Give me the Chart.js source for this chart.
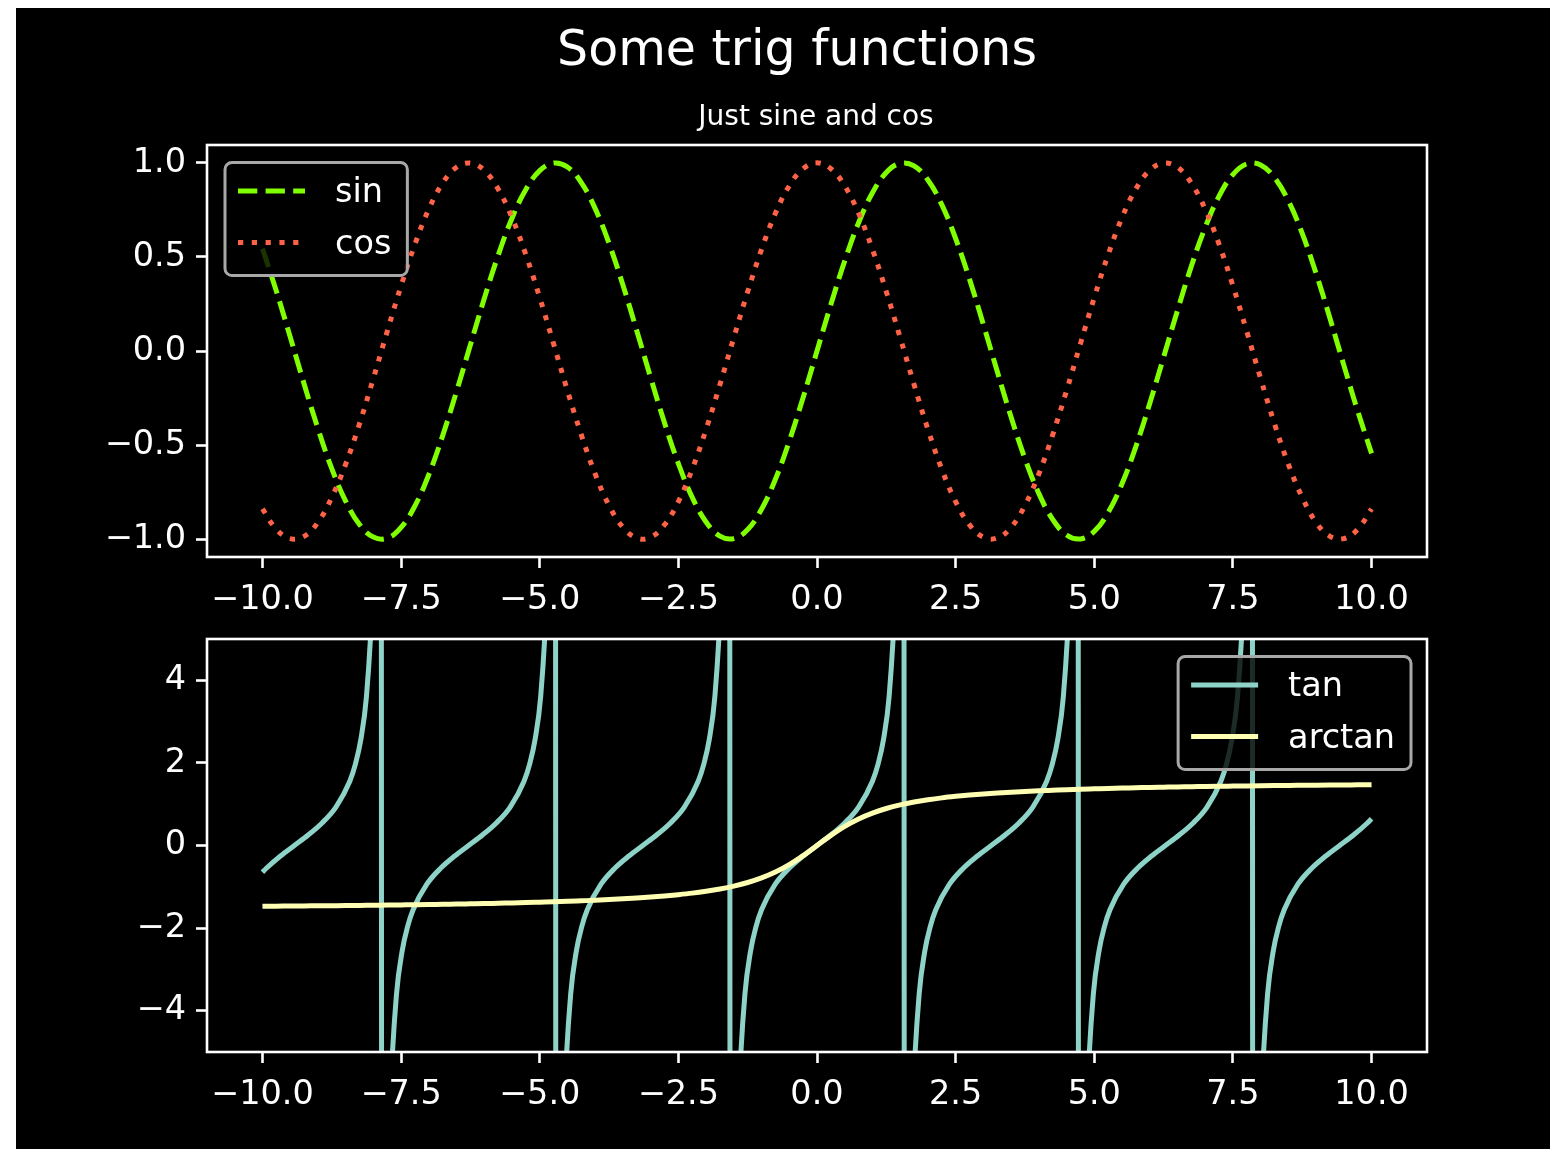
<!DOCTYPE html>
<html>
<head>
<meta charset="utf-8">
<script src="https://cdn.jsdelivr.net/npm/chart.js@4.4.1/dist/chart.umd.min.js"></script>
<style>
  html, body { margin: 0; background: #fff; }
  #fig { position: absolute; left: 16px; top: 8px; width: 1534px; height: 1141px; background: #000; }
  canvas { position: absolute; left: 0; }
</style>
</head>
<body>
<div id="fig"></div>
<canvas id="trigTop" width="1556" height="640" style="top:0px"></canvas>
<canvas id="trigBottom" width="1556" height="569" style="top:580px"></canvas>

<script>
/* ================== DATA ================== */
const xGrid = [
  -10, -9.75, -9.5, -9.25, -9, -8.75, -8.5, -8.25, -8, -7.75, -7.5, -7.25, -7, -6.75, -6.5, -6.25,
  -6, -5.75, -5.5, -5.25, -5, -4.75, -4.5, -4.25, -4, -3.75, -3.5, -3.25, -3, -2.75, -2.5, -2.25,
  -2, -1.75, -1.5, -1.25, -1, -0.75, -0.5, -0.25, 0, 0.25, 0.5, 0.75, 1, 1.25, 1.5, 1.75,
  2, 2.25, 2.5, 2.75, 3, 3.25, 3.5, 3.75, 4, 4.25, 4.5, 4.75, 5, 5.25, 5.5, 5.75,
  6, 6.25, 6.5, 6.75, 7, 7.25, 7.5, 7.75, 8, 8.25, 8.5, 8.75, 9, 9.25, 9.5, 9.75, 10
];

const sinValues = [
  0.544, 0.319, 0.075, -0.174, -0.412, -0.625, -0.798, -0.922, -0.989, -0.995, -0.938, -0.823, -0.657, -0.450, -0.215, 0.033,
  0.279, 0.508, 0.706, 0.859, 0.959, 0.999, 0.978, 0.895, 0.757, 0.572, 0.351, 0.108, -0.141, -0.382, -0.598, -0.778,
  -0.909, -0.984, -0.997, -0.949, -0.841, -0.682, -0.479, -0.247, 0, 0.247, 0.479, 0.682, 0.841, 0.949, 0.997, 0.984,
  0.909, 0.778, 0.598, 0.382, 0.141, -0.108, -0.351, -0.572, -0.757, -0.895, -0.978, -0.999, -0.959, -0.859, -0.706, -0.508,
  -0.279, -0.033, 0.215, 0.450, 0.657, 0.823, 0.938, 0.995, 0.989, 0.922, 0.798, 0.625, 0.412, 0.174, -0.075, -0.319, -0.544
];

const cosValues = [
  -0.839, -0.948, -0.997, -0.985, -0.911, -0.778, -0.602, -0.387, -0.146, 0.104, 0.347, 0.568, 0.754, 0.893, 0.977, 0.999,
  0.960, 0.861, 0.709, 0.512, 0.284, 0.038, -0.211, -0.446, -0.654, -0.821, -0.937, -0.994, -0.990, -0.924, -0.801, -0.628,
  -0.416, -0.178, 0.071, 0.315, 0.540, 0.732, 0.878, 0.969, 1.0, 0.969, 0.878, 0.732, 0.540, 0.315, 0.071, -0.178,
  -0.416, -0.628, -0.801, -0.924, -0.990, -0.994, -0.937, -0.821, -0.654, -0.446, -0.211, 0.038, 0.284, 0.512, 0.709, 0.861,
  0.960, 0.999, 0.977, 0.893, 0.754, 0.568, 0.347, 0.104, -0.146, -0.387, -0.602, -0.778, -0.911, -0.985, -0.997, -0.948, -0.839
];

const arctanValues = [
  -1.471, -1.468, -1.466, -1.463, -1.460, -1.457, -1.454, -1.450, -1.446, -1.442, -1.438, -1.434, -1.429, -1.423, -1.418, -1.412,
  -1.406, -1.398, -1.391, -1.383, -1.373, -1.363, -1.352, -1.339, -1.326, -1.310, -1.292, -1.272, -1.249, -1.222, -1.190, -1.153,
  -1.107, -1.052, -0.983, -0.896, -0.785, -0.644, -0.464, -0.245, 0, 0.245, 0.464, 0.644, 0.785, 0.896, 0.983, 1.052,
  1.107, 1.153, 1.190, 1.222, 1.249, 1.272, 1.292, 1.310, 1.326, 1.339, 1.352, 1.363, 1.373, 1.383, 1.391, 1.398,
  1.406, 1.412, 1.418, 1.423, 1.429, 1.434, 1.438, 1.442, 1.446, 1.450, 1.454, 1.457, 1.460, 1.463, 1.466, 1.468, 1.471
];

// tan is sampled more densely next to each asymptote
const tanX = [
  -10, -9.925, -9.675, -9.425, -9.175, -8.925, -8.675, -8.425, -8.325, -8.225, -8.125, -8.025, -7.925, -7.875,
  -7.833, -7.783, -7.683, -7.583, -7.483, -7.383, -7.283, -7.033, -6.783, -6.533, -6.283, -6.033, -5.783, -5.533, -5.283, -5.183, -5.083, -4.983, -4.883, -4.783, -4.733,
  -4.692, -4.642, -4.542, -4.442, -4.342, -4.242, -4.142, -3.892, -3.642, -3.392, -3.142, -2.892, -2.642, -2.392, -2.142, -2.042, -1.942, -1.842, -1.742, -1.642, -1.592,
  -1.55, -1.5, -1.4, -1.3, -1.2, -1.1, -1.0, -0.75, -0.5, -0.25, 0, 0.25, 0.5, 0.75, 1.0, 1.1, 1.2, 1.3, 1.4, 1.5, 1.55,
  1.592, 1.642, 1.742, 1.842, 1.942, 2.042, 2.142, 2.392, 2.642, 2.892, 3.142, 3.392, 3.642, 3.892, 4.142, 4.242, 4.342, 4.442, 4.542, 4.642, 4.692,
  4.733, 4.783, 4.883, 4.983, 5.083, 5.183, 5.283, 5.533, 5.783, 6.033, 6.283, 6.533, 6.783, 7.033, 7.283, 7.383, 7.483, 7.583, 7.683, 7.783, 7.833,
  7.875, 7.925, 8.025, 8.125, 8.225, 8.325, 8.425, 8.675, 8.925, 9.175, 9.425, 9.675, 9.925, 10
];

const tanValues = [
  -0.648, -0.546, -0.255, 0, 0.255, 0.546, 0.932, 1.557, 1.965, 2.572, 3.602, 5.798, 14.10, 48.08,
  -48.08, -14.10, -5.798, -3.602, -2.572, -1.965, -1.557, -0.932, -0.546, -0.255, 0, 0.255, 0.546, 0.932, 1.557, 1.965, 2.572, 3.602, 5.798, 14.10, 48.08,
  -48.08, -14.10, -5.798, -3.602, -2.572, -1.965, -1.557, -0.932, -0.546, -0.255, 0, 0.255, 0.546, 0.932, 1.557, 1.965, 2.572, 3.602, 5.798, 14.10, 48.08,
  -48.08, -14.10, -5.798, -3.602, -2.572, -1.965, -1.557, -0.932, -0.546, -0.255, 0, 0.255, 0.546, 0.932, 1.557, 1.965, 2.572, 3.602, 5.798, 14.10, 48.08,
  -48.08, -14.10, -5.798, -3.602, -2.572, -1.965, -1.557, -0.932, -0.546, -0.255, 0, 0.255, 0.546, 0.932, 1.557, 1.965, 2.572, 3.602, 5.798, 14.10, 48.08,
  -48.08, -14.10, -5.798, -3.602, -2.572, -1.965, -1.557, -0.932, -0.546, -0.255, 0, 0.255, 0.546, 0.932, 1.557, 1.965, 2.572, 3.602, 5.798, 14.10, 48.08,
  -48.08, -14.10, -5.798, -3.602, -2.572, -1.965, -1.557, -0.932, -0.546, -0.255, 0, 0.255, 0.546, 0.648
];

const xTicks = [-10, -7.5, -5, -2.5, 0, 2.5, 5, 7.5, 10];
const topYTicks = [-1, -0.5, 0, 0.5, 1];
const bottomYTicks = [-4, -2, 0, 2, 4];

const figTitle = "Some trig functions";
const topTitle = "Just sine and cos";

/* ================== HELPERS ================== */
const FONT = "DejaVu Sans";
const toPoints = (xs, ys) => xs.map((x, i) => ({ x, y: ys[i] }));
const fmt = (v, digits) => v.toFixed(digits).replace("-", "\u2212");

Chart.defaults.font.family = FONT;
Chart.defaults.color = "#fff";

/* ================== PLUGINS ================== */
// full box round the axes, like matplotlib spines
const frame = {
  id: "frame",
  afterDatasetsDraw(chart) {
    const { ctx, chartArea: a } = chart;
    ctx.save();
    ctx.strokeStyle = "#fff";
    ctx.lineWidth = 2.6;
    ctx.strokeRect(a.left, a.top, a.right - a.left, a.bottom - a.top);
    ctx.restore();
  }
};

// legend drawn inside the plot area
const boxLegend = {
  id: "boxLegend",
  afterDatasetsDraw(chart, args, opts) {
    const { ctx, chartArea: a } = chart;
    const items = chart.data.datasets;
    ctx.save();
    ctx.font = `33.5px "${FONT}"`;
    const textW = Math.max(...items.map(d => ctx.measureText(d.label).width));
    const w = 110 + textW + 16;
    const h = 113;
    const x = opts.align === "right" ? a.right - 16 - w : a.left + 18;
    const y = a.top + 17.5;

    ctx.beginPath();
    ctx.roundRect(x, y, w, h, 7);
    ctx.fillStyle = "rgba(0,0,0,0.8)";
    ctx.fill();
    ctx.lineWidth = 3;
    ctx.strokeStyle = "#a8a8a8";
    ctx.stroke();

    opts.order.forEach((idx, row) => {
      const d = items[idx];
      const cy = y + (row === 0 ? 28.5 : 80);
      ctx.beginPath();
      ctx.setLineDash(d.borderDash || []);
      ctx.lineCap = "butt";
      ctx.lineWidth = d.borderWidth;
      ctx.strokeStyle = d.borderColor;
      ctx.moveTo(x + 13, cy);
      ctx.lineTo(x + 80, cy);
      ctx.stroke();
      ctx.setLineDash([]);
      ctx.fillStyle = "#fff";
      ctx.textAlign = "left";
      ctx.textBaseline = "alphabetic";
      ctx.fillText(d.label, x + 110, cy + 11);
    });
    ctx.restore();
  }
};

const titles = {
  id: "titles",
  afterDraw(chart) {
    const { ctx } = chart;
    ctx.save();
    ctx.fillStyle = "#fff";
    ctx.textAlign = "center";
    ctx.textBaseline = "alphabetic";
    ctx.font = `49px "${FONT}"`;
    ctx.fillText(figTitle, 797, 65);
    ctx.font = `28px "${FONT}"`;
    ctx.fillText(topTitle, 816, 125);
    ctx.restore();
  }
};

/* ================== SCALES ================== */
function buildScales(yTicks, yMin, yMax, yDigits) {
  const tickFont = { family: FONT, size: 33.5 };
  const grid = { drawOnChartArea: false, drawTicks: true, tickLength: 11, tickWidth: 2.6, tickColor: "#fff", color: "#fff" };
  return {
    x: {
      type: "linear",
      min: -11,
      max: 11,
      afterBuildTicks: s => { s.ticks = xTicks.map(v => ({ value: v })); },
      afterFit: s => { s.height = 60; },
      ticks: { font: tickFont, color: "#fff", padding: 12, autoSkip: false, maxRotation: 0, minRotation: 0, callback: v => fmt(v, 1) },
      grid,
      border: { display: false }
    },
    y: {
      type: "linear",
      min: yMin,
      max: yMax,
      afterBuildTicks: s => { s.ticks = yTicks.map(v => ({ value: v })); },
      afterFit: s => { s.width = 100; },
      ticks: { font: tickFont, color: "#fff", padding: 10, autoSkip: false, callback: v => fmt(v, yDigits) },
      grid,
      border: { display: false }
    }
  };
}

const baseOptions = {
  responsive: false,
  animation: false,
  events: [],
  plugins: { legend: { display: false }, tooltip: { enabled: false } }
};

/* ================== TOP CHART ================== */
new Chart(document.getElementById("trigTop"), {
  type: "line",
  data: {
    datasets: [
      {
        label: "sin",
        data: toPoints(xGrid, sinValues),
        borderColor: "#80ff00",
        borderWidth: 5,
        borderDash: [19.3, 8.3],
        tension: 0.4,
        pointRadius: 0,
        clip: 0,
        order: 2
      },
      {
        label: "cos",
        data: toPoints(xGrid, cosValues),
        borderColor: "#ff6347",
        borderWidth: 5,
        borderDash: [5.2, 8.6],
        tension: 0.4,
        pointRadius: 0,
        clip: 0,
        order: 1
      }
    ]
  },
  options: {
    ...baseOptions,
    layout: { padding: { left: 107, right: 129, top: 145, bottom: 23 } },
    scales: buildScales(topYTicks, -1.095, 1.095, 1),
    plugins: { ...baseOptions.plugins, boxLegend: { align: "left", order: [0, 1] } }
  },
  plugins: [frame, boxLegend, titles]
});

/* ================== BOTTOM CHART ================== */
new Chart(document.getElementById("trigBottom"), {
  type: "line",
  data: {
    datasets: [
      {
        label: "tan",
        data: toPoints(tanX, tanValues),
        borderColor: "#8dd3c7",
        borderWidth: 5,
        cubicInterpolationMode: "monotone",
        pointRadius: 0,
        clip: 0,
        order: 2
      },
      {
        label: "arctan",
        data: toPoints(xGrid, arctanValues),
        borderColor: "#feffb3",
        borderWidth: 5,
        cubicInterpolationMode: "monotone",
        pointRadius: 0,
        clip: 0,
        order: 1
      }
    ]
  },
  options: {
    ...baseOptions,
    layout: { padding: { left: 107, right: 129, top: 59, bottom: 37 } },
    scales: buildScales(bottomYTicks, -5, 5, 0),
    plugins: { ...baseOptions.plugins, boxLegend: { align: "right", order: [0, 1] } }
  },
  plugins: [frame, boxLegend]
});
</script>
</body>
</html>
